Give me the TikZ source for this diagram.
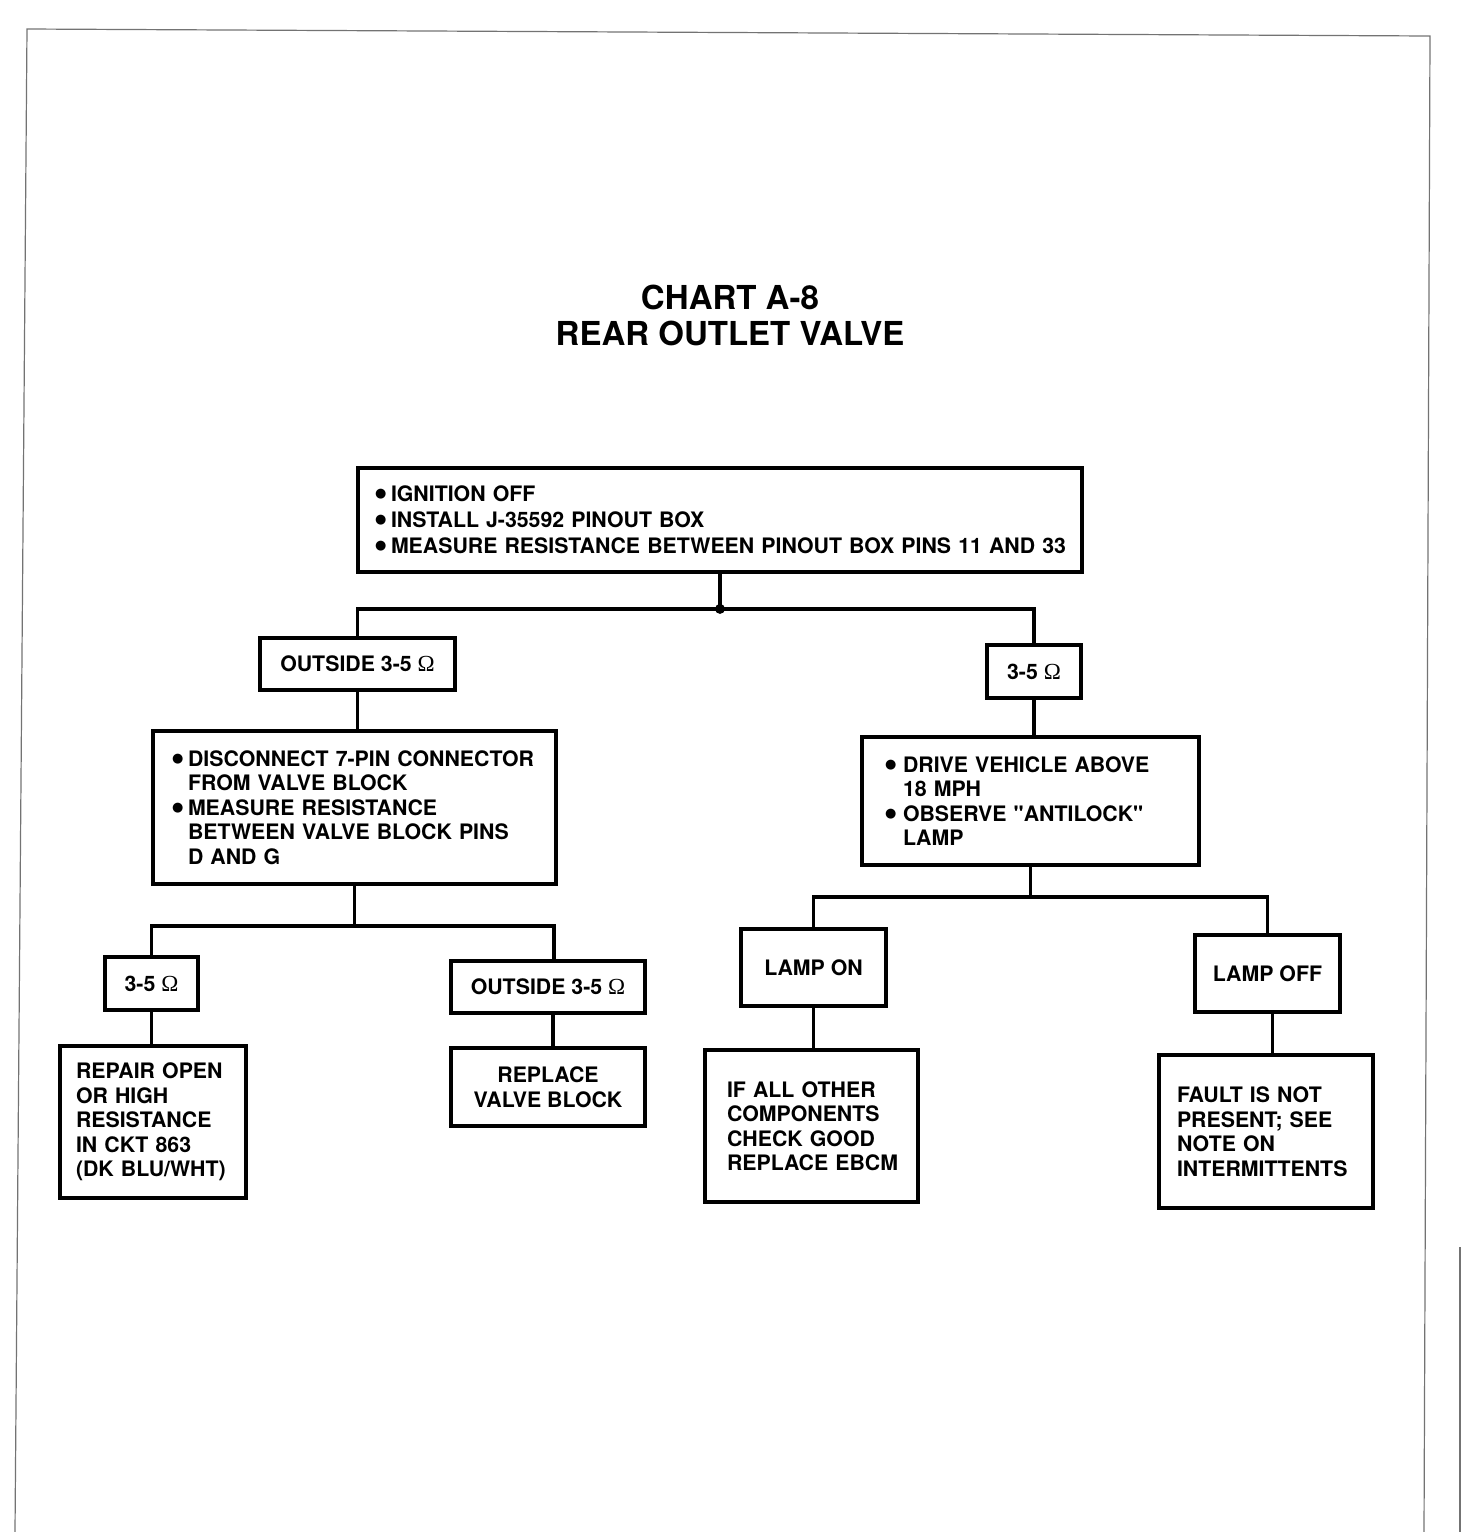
\documentclass[tikz,border=0pt]{standalone}
\usepackage{fontspec}
\setmainfont{TeX Gyre Heros}
\newfontfamily\ohmfont{Liberation Serif}
\newfontfamily\dotfont{DejaVu Sans}
\usetikzlibrary{positioning}

% bullet and hanging indent for the step boxes
\newcommand{\bul}[1][16pt]{\makebox[#1][l]{\raisebox{3.8pt}{\dotfont\fontsize{13}{13}\selectfont ●}}}
\newcommand{\ind}[1][16pt]{\makebox[#1]{}}
\newcommand{\ohm}{{\ohmfont\mdseries\fontsize{23}{24.5}\selectfont Ω}}

\begin{document}
\begin{tikzpicture}[
    x=1pt, y=-1pt,
    step_box/.style={draw=black, line width=3.8pt, inner ysep=0pt, align=left,
        font=\fontsize{21.3}{24.5}\selectfont\bfseries},
    value_box/.style={draw=black, line width=3.8pt, inner sep=0pt, align=center,
        font=\fontsize{21.3}{24.5}\selectfont\bfseries},
    link/.style={line width=3.3pt},
    frame_line/.style={line width=1.2pt, black!55}
]

\useasboundingbox (0,0) rectangle (1472,1532);

% ==========================
% MARCO DE LA PAGINA
% ==========================
\draw[frame_line] (15,1532) -- (27,29) -- (1430,36) -- (1424,1532);
\draw[frame_line] (1460,1247) -- (1460,1532);

% ==========================
% TITULO
% ==========================
\node[font=\fontsize{33}{36}\selectfont\bfseries, align=center] (title) at (730,315)
    {CHART A-8\\REAR OUTLET VALVE};

% ==========================
% PRUEBA INICIAL
% ==========================
\node[step_box, font=\fontsize{21.3}{26}\selectfont\bfseries,
      minimum height=104, inner xsep=17, text width=690] (ign) at (720,520)
    {\bul IGNITION OFF\\
     \bul INSTALL J-35592 PINOUT BOX\\
     \bul \mbox{MEASURE RESISTANCE BETWEEN PINOUT BOX PINS 11 AND 33}};

\coordinate (j1) at ([yshift=-35pt]ign.south);
\node[value_box, minimum width=195, minimum height=52] (out1) at (357.5,664) {OUTSIDE 3-5 \ohm};
\node[value_box, minimum width=94, minimum height=53] (in1) at (1034,671.5) {3-5 \ohm};

\draw[link] (ign.south) -- (j1);
\fill (j1) circle (5);
\draw[link] (out1.north) |- (j1) -| (in1.north);

% ==========================
% RAMA IZQUIERDA
% ==========================
\node[step_box, minimum height=153, inner xsep=19, text width=365] (disc) at (354.5,807.5)
    {\bul DISCONNECT 7-PIN CONNECTOR\\
     \ind FROM VALVE BLOCK\\
     \bul MEASURE RESISTANCE\\
     \ind BETWEEN VALVE BLOCK PINS\\
     \ind D AND G};
\draw[link] (out1.south) -- (out1.south |- disc.north);

\coordinate (j2) at ([yshift=-40pt]disc.south);
\node[value_box, minimum width=93, minimum height=53] (in2) at (151.5,983.5) {3-5 \ohm};
\node[value_box, minimum width=194, minimum height=52] (out2) at (548,987) {OUTSIDE 3-5 \ohm};

\draw[link] (disc.south) -- (j2);
\draw[link] (in2.north) |- (j2) -| ([xshift=6pt]out2.north);

\node[step_box, minimum height=152, inner xsep=16, text width=154] (repair) at (153,1122)
    {REPAIR OPEN\\OR HIGH\\RESISTANCE\\IN CKT 863\\\mbox{(DK BLU/WHT)}};
\node[value_box, minimum width=194, minimum height=78] (replace) at (548,1087)
    {REPLACE\\VALVE BLOCK};

\draw[link] (in2.south) -- (in2.south |- repair.north);
\draw[link] ([xshift=5pt]out2.south) -- ([xshift=5pt]out2.south |- replace.north);

% ==========================
% RAMA DERECHA
% ==========================
\node[step_box, minimum height=128, inner xsep=23, text width=291] (drive) at (1030.5,801)
    {\bul[18pt]DRIVE VEHICLE ABOVE\\
     \ind[18pt]18 MPH\\
     \bul[18pt]OBSERVE \textquotedbl ANTILOCK\textquotedbl\\
     \ind[18pt]LAMP};
\draw[link] (in1.south) -- (in1.south |- drive.north);

\coordinate (j3) at ([yshift=-30pt]drive.south);
\node[value_box, minimum width=145, minimum height=77] (lon) at (813.5,967.5) {LAMP ON};
\node[value_box, minimum width=145, minimum height=77] (loff) at (1267.5,973.5) {LAMP OFF};

\draw[link] (drive.south) -- (j3);
\draw[link] (lon.north) |- (j3) -| (loff.north);

\node[step_box, minimum height=152, inner xsep=22, text width=169] (ebcm) at (811.5,1126)
    {IF ALL OTHER\\COMPONENTS\\CHECK GOOD\\\mbox{REPLACE EBCM}};
\node[step_box, minimum height=153, inner xsep=18, text width=178] (fault) at (1266,1131.5)
    {FAULT IS NOT\\PRESENT; SEE\\NOTE ON\\\mbox{INTERMITTENTS}};

\draw[link] (lon.south) -- (lon.south |- ebcm.north);
\draw[link] ([xshift=5pt]loff.south) -- ([xshift=5pt]loff.south |- fault.north);

\end{tikzpicture}
\end{document}
